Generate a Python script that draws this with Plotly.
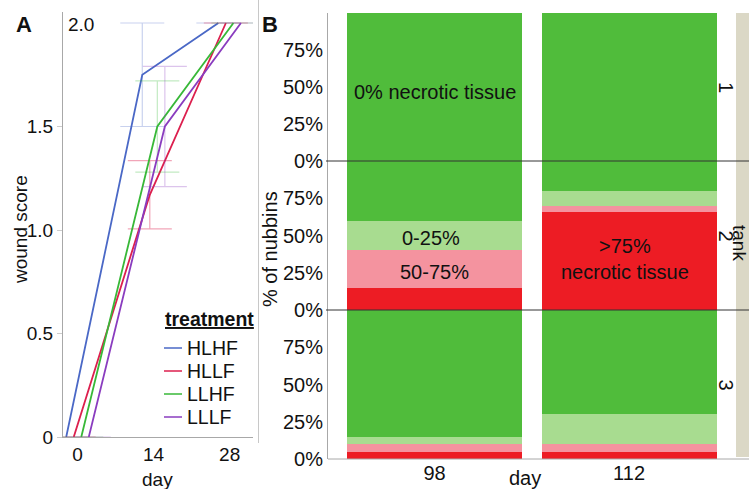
import plotly.graph_objects as go

W, H = 749, 489
FONT = "Liberation Sans, Arial, sans-serif"

# ---------------- Panel A data ----------------
days = [0, 14, 28]
treatments = ["HLHF", "HLLF", "LLHF", "LLLF"]
hlhf = [0, 1.75, 2.0]
hllf = [0, 1.17, 2.0]
llhf = [0, 1.5, 2.0]
lllf = [0, 1.5, 2.0]
hlhf_err = [0, 0.25, 0]
hllf_err = [0, 0.165, 0]
llhf_err = [0, 0.22, 0]
lllf_err = [0, 0.29, 0]
a_ticks = [0, 0.5, 1.0, 1.5]
a_ticktext = ["0", "0.5", "1.0", "1.5"]

# ---------------- Panel B data ----------------
sample_days = ["98", "112"]
tanks = ["1", "2", "3"]
b_categories = [">75% necrotic tissue", "50-75%", "0-25%", "0% necrotic tissue"]
tank1_red = [0, 0]
tank1_pink = [0, 0]
tank1_lgreen = [0, 0]
tank1_green = [100, 100]
tank2_red = [15, 65.5]
tank2_pink = [25, 4.5]
tank2_lgreen = [20, 10]
tank2_green = [40, 20]
tank3_red = [5, 5]
tank3_pink = [5, 5]
tank3_lgreen = [5, 20]
tank3_green = [85, 70]
b_ticks = [0, 25, 50, 75]
b_ticktext = ["0%", "25%", "50%", "75%"]

# ---------------- styles ----------------
line_colors = ["#4a68c6", "#dc1f4e", "#38b838", "#8a3cbf"]
err_colors = ["rgba(74,104,198,0.3)", "rgba(220,31,78,0.4)",
              "rgba(56,184,56,0.3)", "rgba(138,60,191,0.3)"]
cat_colors = ["#ed1c24", "#f4939f", "#a8dc90", "#50bc3b"]
AXC = "#a8a8a8"


def fx(px):
    return px / W


def fy(py):
    return 1 - py / H


fig = go.Figure()

series = [hlhf, hllf, llhf, lllf]
errs = [hlhf_err, hllf_err, llhf_err, lllf_err]
dodge_step = 1.385
for i, (name, vals, e) in enumerate(zip(treatments, series, errs)):
    off = (i - 1.5) * dodge_step
    fig.add_trace(go.Scatter(
        x=[d + off for d in days], y=vals, mode="lines", name=name,
        line=dict(color=line_colors[i], width=1.8),
        error_y=dict(type="data", array=e, visible=True, width=22,
                     thickness=1.2, color=err_colors[i]),
        xaxis="x", yaxis="y", showlegend=False, cliponaxis=False))

tank_data = [
    [tank1_red, tank1_pink, tank1_lgreen, tank1_green],
    [tank2_red, tank2_pink, tank2_lgreen, tank2_green],
    [tank3_red, tank3_pink, tank3_lgreen, tank3_green],
]
yaxes = ["y2", "y3", "y4"]
for t, (tank, stacks) in enumerate(zip(tanks, tank_data)):
    for c, (cat, vals) in enumerate(zip(b_categories, stacks)):
        fig.add_trace(go.Bar(
            x=sample_days, y=vals, name=cat, marker=dict(color=cat_colors[c], line=dict(width=0)),
            xaxis="x2", yaxis=yaxes[t], showlegend=False))

# facet pixel bounds
facet_px = [(13, 161), (161, 310), (310, 459)]

layout = dict(
    width=W, height=H, margin=dict(l=0, r=0, t=0, b=0, autoexpand=False),
    paper_bgcolor="white", plot_bgcolor="rgba(0,0,0,0)",
    font=dict(family=FONT, color="#111111", size=19),
    barmode="stack", bargap=0.1,
    xaxis=dict(domain=[fx(63), fx(253)], range=[-2.67, 32.3], anchor="y",
               tickvals=days, ticktext=[str(d) for d in days], ticks="",
               showline=True, linecolor=AXC, linewidth=1, showgrid=False, zeroline=False,
               tickfont=dict(size=19), automargin=False),
    yaxis=dict(domain=[fy(437), fy(12)], range=[0, 425 / 207.0], anchor="x",
               tickvals=a_ticks, ticktext=a_ticktext, ticks="outside", ticklen=5,
               tickcolor="#cccccc", showline=True, linecolor=AXC, linewidth=1,
               showgrid=False, zeroline=False, tickfont=dict(size=19), automargin=False),
    xaxis2=dict(domain=[fx(328), fx(730)], range=[-0.548, 1.519], anchor="y4",
                type="category", categoryorder="array", categoryarray=sample_days,
                ticks="", showline=False, showgrid=False, zeroline=False,
                tickfont=dict(size=20), automargin=False),
)
for t, ax in enumerate(["yaxis2", "yaxis3", "yaxis4"]):
    top, bot = facet_px[t]
    layout[ax] = dict(domain=[fy(bot), fy(top)], range=[0, 100], anchor="x2",
                      tickvals=b_ticks, ticktext=b_ticktext, ticks="",
                      showline=True, linecolor=AXC, linewidth=1, showgrid=False,
                      zeroline=False, tickfont=dict(size=20), automargin=False)
fig.update_layout(**layout)

shapes = []
# strip background
shapes.append(dict(type="rect", xref="paper", yref="paper", x0=fx(736), x1=fx(752),
                   y0=fy(457), y1=fy(13), fillcolor="#dbd8c6", line=dict(width=0), layer="below"))
# facet separators
for py in (161, 310):
    shapes.append(dict(type="line", xref="paper", yref="paper", x0=fx(326), x1=1.0,
                       y0=fy(py), y1=fy(py), line=dict(color="#333333", width=1), layer="above"))
# bottom axis B
shapes.append(dict(type="line", xref="paper", yref="paper", x0=fx(328), x1=1.0,
                   y0=fy(459), y1=fy(459), line=dict(color=AXC, width=1)))
# panel divider
shapes.append(dict(type="line", xref="paper", yref="paper", x0=fx(258.5), x1=fx(258.5),
                   y0=fy(443), y1=fy(0), line=dict(color="#c8c8c8", width=1)))
# legend samples
leg_y = [348, 371, 394, 417]
for i, name in enumerate(treatments):
    shapes.append(dict(type="line", xref="paper", yref="paper", x0=fx(164), x1=fx(182),
                       y0=fy(leg_y[i]), y1=fy(leg_y[i]), line=dict(color=line_colors[i], width=1.5)))

ann = []


def pa(text, x, y, size=19, angle=0, xanchor="center", yanchor="middle", **kw):
    ann.append(dict(text=text, x=fx(x), y=fy(y), xref="paper", yref="paper", showarrow=False,
                    font=dict(size=size, family=FONT, color=kw.pop("color", "#111111")),
                    textangle=angle, xanchor=xanchor, yanchor=yanchor, **kw))


pa("<b>A</b>", 24, 24, size=22)
pa("<b>B</b>", 270, 24, size=22)
pa("2.0", 81, 24, size=19)
pa("wound score", 20, 230, size=19, angle=-90)
pa("day", 157, 479, size=19)
pa("% of nubbins", 270, 249, size=20, angle=-90)
pa("day", 525, 478, size=20)
pa("<b><u>treatment</u></b>", 163, 319, size=19.5, xanchor="left")
for i, name in enumerate(treatments):
    pa(name, 185, leg_y[i], size=19.5, xanchor="left")
for t, tank in enumerate(tanks):
    top, bot = facet_px[t]
    pa(tank, 726, (top + bot) / 2, size=20, angle=90)
pa("tank", 740, 243, size=19, angle=90)

# in-bar labels (data coordinates; category index on x2)
i98 = sample_days.index("98")
i112 = sample_days.index("112")
tf = dict(size=20, family=FONT, color="#111111")
ann.append(dict(text="0% necrotic tissue", x=i98, y=46.6, xref="x2", yref="y2",
                showarrow=False, font=tf))
ann.append(dict(text="0-25%", x=i98, y=48.6, xref="x2", yref="y3", showarrow=False,
                xshift=-4, font=tf))
ann.append(dict(text="50-75%", x=i98, y=25.7, xref="x2", yref="y3", showarrow=False,
                font=tf))
ann.append(dict(text=">75%<br>necrotic tissue", x=i112, y=34.5, xref="x2", yref="y3",
                showarrow=False, xshift=-4, font=tf))

fig.update_layout(shapes=shapes, annotations=ann)
fig.write_html("out.html")
